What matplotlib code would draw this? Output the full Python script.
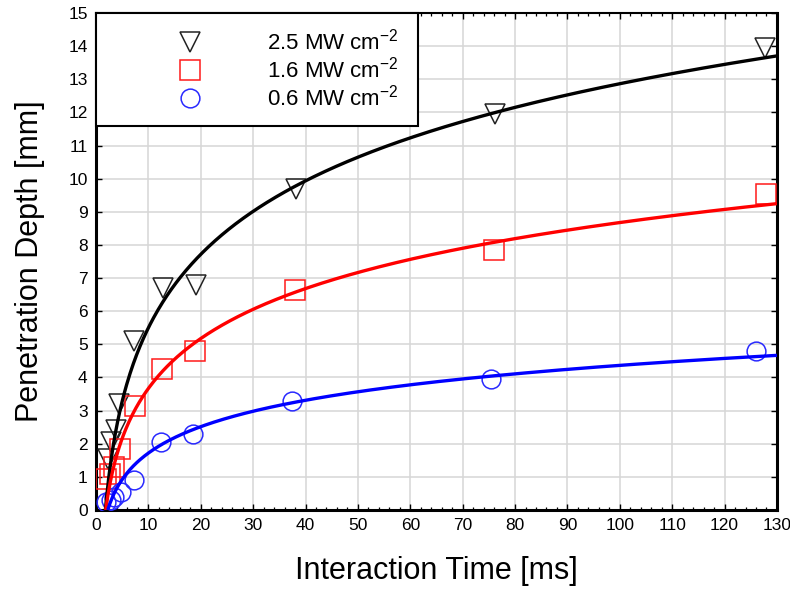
import numpy as np
import matplotlib
matplotlib.use("Agg")
import matplotlib.pyplot as plt
from matplotlib.ticker import MultipleLocator

plt.rcParams['font.family'] = ['Liberation Sans', 'DejaVu Sans']
plt.rcParams['mathtext.fontset'] = 'custom'
plt.rcParams['mathtext.rm'] = 'Liberation Sans'
plt.rcParams['mathtext.it'] = 'Liberation Sans:italic'

# Measured penetration depth [mm] vs interaction time [ms]
labels = ['2.5 MW cm$^{-2}$', '1.6 MW cm$^{-2}$', '0.6 MW cm$^{-2}$']

t_25 = [2.2, 2.9, 3.8, 4.4, 7.3, 12.7, 19.1, 38.2, 76.2, 127.7]
d_25 = [1.55, 2.05, 2.4, 3.2, 5.1, 6.7, 6.8, 9.7, 11.95, 13.95]

t_16 = [1.9, 2.6, 3.5, 4.5, 7.5, 12.6, 18.9, 38.0, 75.9, 127.9]
d_16 = [0.95, 1.1, 1.3, 1.85, 3.15, 4.25, 4.8, 6.65, 7.85, 9.55]

t_06 = [1.9, 2.9, 3.5, 4.8, 7.3, 12.4, 18.5, 37.5, 75.4, 126.0]
d_06 = [0.25, 0.3, 0.4, 0.55, 0.9, 2.05, 2.3, 3.3, 3.95, 4.8]

# Logarithmic fits: d = a * ln(t) + b
fit_a = [3.2, 2.175, 1.15]
fit_b = [-1.87, -1.34, -0.93]

x_ticks = list(range(0, 131, 10))
y_ticks = list(range(0, 16, 1))

line_colors = ['#000000', '#ff0000', '#0000ff']
edge_colors = ['#222222', '#ff1a1a', '#2a2aff']
markers = ['v', 's', 'o']
msizes = [14.5, 14, 13.5]

fig = plt.figure(figsize=(7.9, 5.92), dpi=100)
ax = fig.add_axes([0.1215, 0.1385, 0.862, 0.8395])

series = [(t_25, d_25), (t_16, d_16), (t_06, d_06)]
handles = []
for i, (t, d) in enumerate(series):
    h, = ax.plot(t, d, linestyle='none', marker=markers[i], markersize=msizes[i],
                 markerfacecolor='none', markeredgecolor=edge_colors[i],
                 markeredgewidth=1.1, zorder=3, label=labels[i])
    handles.append(h)
    t0 = np.exp(-fit_b[i] / fit_a[i])
    tt = np.linspace(t0, 130, 600)
    ax.plot(tt, fit_a[i] * np.log(tt) + fit_b[i], color=line_colors[i],
            lw=2.4, zorder=4, solid_capstyle='butt')

ax.set_xlim(0, 130)
ax.set_ylim(0, 15)
ax.set_xticks(x_ticks)
ax.set_yticks(y_ticks)
ax.xaxis.set_minor_locator(MultipleLocator(2))
ax.grid(True, which='major', color='#d6d6d6', lw=1.1, zorder=0)
ax.set_axisbelow(True)

ax.tick_params(which='both', direction='in', top=True, right=True,
               labelsize=12.5, colors='black')
ax.tick_params(which='major', length=4, width=1.0, pad=6)
ax.tick_params(which='minor', length=2.5, width=0.9)

for side in ['left', 'bottom', 'right']:
    ax.spines[side].set_linewidth(2.2)
ax.spines['top'].set_linewidth(1.5)

ax.set_xlabel('Interaction Time [ms]', fontsize=22, labelpad=16)
ax.set_ylabel('Penetration Depth [mm]', fontsize=22, labelpad=17)

leg = ax.legend(handles=handles, loc='upper left', bbox_to_anchor=(0, 1, 0.473, 0),
                mode='expand', borderaxespad=0, fontsize=16, frameon=True,
                fancybox=False, edgecolor='black', framealpha=1,
                borderpad=0.7, handlelength=7.1, handletextpad=-0.1,
                labelspacing=0.1, numpoints=1)
leg.get_frame().set_linewidth(1.5)
leg.set_zorder(10)

fig.savefig('out.png', dpi=100)
